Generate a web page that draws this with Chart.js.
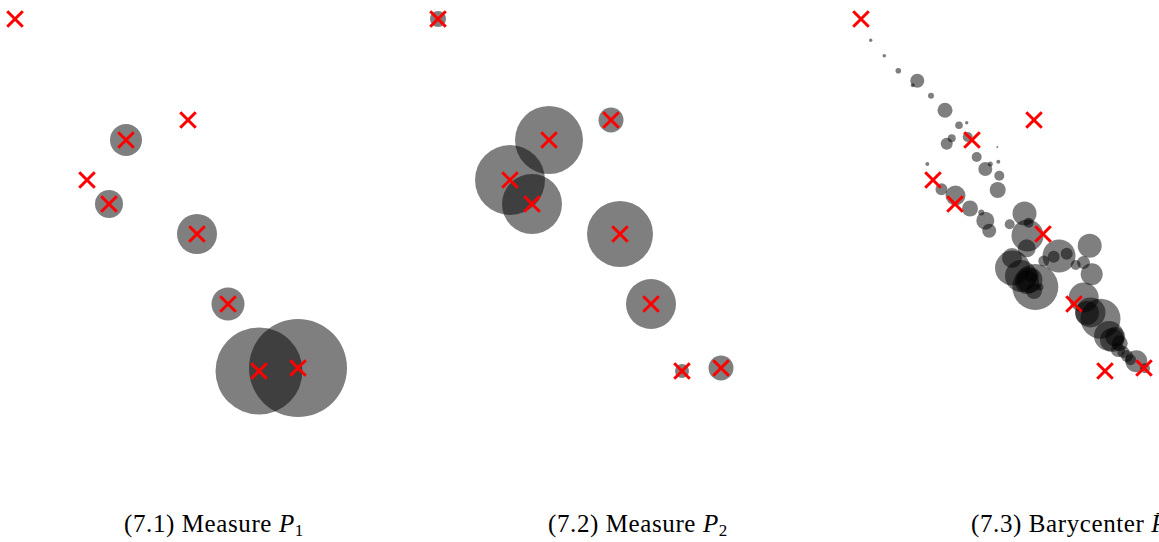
<!DOCTYPE html>
<html>
<head>
<meta charset="utf-8">
<script src="https://cdn.jsdelivr.net/npm/chart.js@4/dist/chart.umd.min.js"></script>
<style>
    html, body { margin: 0; padding: 0; background: #fff; }
    body { width: 1159px; height: 542px; overflow: hidden; position: relative; }
    canvas { position: absolute; top: 0; }
    .caption {
        position: absolute;
        top: 511px;
        font-family: "Liberation Serif", serif;
        font-size: 25px;
        letter-spacing: 0.6px;
        line-height: 1;
        white-space: nowrap;
        color: #000;
    }
    .caption sub { font-size: 17px; vertical-align: -4px; line-height: 0; }
</style>
</head>
<body>
<canvas id="chart1" width="423" height="480" style="left:0px"></canvas>
<canvas id="chart2" width="423" height="480" style="left:423px"></canvas>
<canvas id="chart3" width="423" height="480" style="left:846px"></canvas>
<div class="caption" style="left:124px">(7.1) Measure <i>P</i><sub>1</sub></div>
<div class="caption" style="left:548px">(7.2) Measure <i>P</i><sub>2</sub></div>
<div class="caption" style="left:971px">(7.3) Barycenter <i>P̄</i></div>

<script>
// サポート点（赤い×印）— 3つのパネルで共通
const supportX = [1.5, 18.8, 12.6, 8.7, 10.9, 19.7, 22.8, 25.9, 29.8];
const supportY = [46.1, 36.0, 34.0, 30.0, 27.6, 24.6, 17.6, 10.9, 11.2];

// 各測度の重み（円の半径, px）
const radiusP1 = [0, 0, 16, 0, 14, 20, 16.5, 43.5, 49];
const radiusP2 = [8, 12.5, 34, 35, 30, 33, 25, 7, 12.5];

// 重心（バリセンター）の点と半径
const baryX = [2.47, 3.83, 5.23, 7.13, 6.67, 8.5, 9.9, 11.3, 12.07, 10.57,
    10.07, 12.17, 15.13, 13.07, 8.13, 13.93, 14.43, 15.23, 15.33, 15.17,
    9.55, 10.95, 12.4, 13.53, 13.93, 14.32, 16.37, 17.85, 18.27, 18.15,
    18.07, 16.65, 17.5, 18.35, 18.57, 18.93, 19.4, 21.3, 20.77, 22.07,
    19.78, 24.37, 22.97, 23.75, 24.57, 23.77, 24.45, 25.45, 26.3, 26.92,
    27.37, 27.73, 28.45, 29.03, 29.9,
    16.6, 18.1, 18.8, 26.6, 27.2, 28.1, 24.1];
const baryY = [43.97, 42.43, 40.93, 39.93, 39.47, 38.43, 36.97, 35.47, 35.73, 34.17,
    33.63, 34.3, 33.3, 32.3, 31.6, 31.1, 31.6, 31.83, 30.43, 29.0,
    29.07, 28.45, 27.15, 26.75, 25.93, 24.93, 25.58, 26.65, 25.73, 24.45,
    23.17, 21.2, 20.4, 20.0, 20.45, 19.3, 19.3, 22.4, 22.33, 22.63,
    21.9, 23.42, 21.5, 21.75, 20.57, 18.25, 16.75, 16.13, 14.4, 14.33,
    13.67, 12.8, 12.03, 11.87, 11.17,
    22.2, 19.8, 18.9, 14.0, 13.0, 12.4, 16.7];
const baryR = [1.7, 1.8, 2.8, 7, 2, 3, 7.5, 3.8, 1.7, 4,
    6, 5, 1, 5, 2, 7, 2.5, 2, 5, 8,
    6, 10, 8, 3, 9, 7, 5, 12, 5, 16,
    9, 17.5, 16, 13, 7, 23, 3.5, 16.5, 6, 6,
    5.5, 12, 5, 6.5, 11, 15, 15, 20, 15, 10,
    8, 6, 5.5, 11, 5,
    10, 12, 8, 12, 7, 6, 12];

// 軸の範囲（データ単位）
const xRange = [0, 42.3];
const yRange = [0, 48];

function toPoints(xs, ys, rs) {
    return xs.map((x, i) => ({ x: x, y: ys[i], r: rs ? rs[i] : 0 }));
}

function makePanel(id, bubbles) {
    const ctx = document.getElementById(id);
    new Chart(ctx, {
        type: 'bubble',
        data: {
            datasets: [
                {
                    type: 'scatter',
                    data: toPoints(supportX, supportY),
                    pointStyle: 'crossRot',
                    pointRadius: 11,
                    borderColor: '#ff0000',
                    borderWidth: 3,
                    clip: false,
                    order: 0
                },
                {
                    data: bubbles,
                    backgroundColor: 'rgba(0,0,0,0.5)',
                    borderWidth: 0,
                    clip: false,
                    order: 1
                }
            ]
        },
        options: {
            responsive: false,
            animation: false,
            layout: { padding: 0, autoPadding: false },
            scales: {
                x: { type: 'linear', min: xRange[0], max: xRange[1], display: false },
                y: { type: 'linear', min: yRange[0], max: yRange[1], display: false }
            },
            plugins: {
                legend: { display: false },
                tooltip: { enabled: false }
            }
        }
    });
}

makePanel('chart1', toPoints(supportX, supportY, radiusP1));
makePanel('chart2', toPoints(supportX, supportY, radiusP2));
makePanel('chart3', toPoints(baryX, baryY, baryR));
</script>
</body>
</html>
